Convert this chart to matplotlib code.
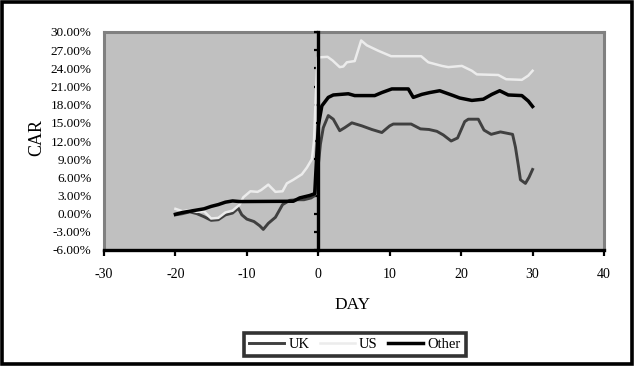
import matplotlib
matplotlib.use("Agg")
import matplotlib.pyplot as plt
from matplotlib.patches import Rectangle
from matplotlib.ticker import FuncFormatter

plt.rcParams['font.family'] = ['Liberation Serif', 'DejaVu Serif']

# ---- data ----
uk_days = [-20, -19, -18, -17, -16, -15, -14, -13, -12, -11.2, -10.7, -10, -9, -8.2, -7.7, -7, -6, -5, -4,
           -3, -2, -1, -0.5, 0, 0.3, 0.7, 1.4, 2.1, 3.0, 3.7, 4.7, 6.1, 7.5, 8.9, 10.0, 10.5, 13.0,
           14.3, 15.5, 16.6, 17.5, 18.6, 19.5, 20.5, 21.0, 22.4, 23.2, 24.2, 25.5, 27.2, 27.6, 28.0,
           28.3, 29.0, 29.5, 30.0]
uk_car = [-0.2, 0.0, 0.3, 0.0, -0.5, -1.1, -1.0, -0.2, 0.1, 0.9, -0.2, -0.9, -1.3, -2.0, -2.6, -1.6, -0.6,
          1.5, 2.2, 2.3, 2.3, 2.6, 3.0, 8.0, 11.5, 14.2, 16.2, 15.6, 13.7, 14.2, 15.0, 14.5, 13.9, 13.4,
          14.5, 14.8, 14.8, 14.0, 13.9, 13.6, 13.0, 12.0, 12.5, 15.2, 15.6, 15.6, 13.8, 13.1, 13.5,
          13.1, 11.0, 8.0, 5.6, 5.0, 6.0, 7.3]

us_days = [-20, -19, -18, -17, -16, -15, -14, -13, -12, -11, -10.5, -9.5, -8.5, -8, -7, -6, -5, -4.4,
           -3.5, -2.3, -1.6, -0.9, -0.6, -0.4, -0.1, 1.3, 2.0, 3.0, 3.5, 4.0, 5.1, 6.0, 6.8, 8.4, 10.2,
           14.4, 15.4, 17.3, 18.2, 20.1, 21.5, 22.2, 25.2, 26.3, 28.5, 29.4, 30.0]
us_car = [0.8, 0.4, 0.6, 0.3, 0.4, -0.8, -0.7, 0.2, 0.5, 1.5, 2.7, 3.7, 3.6, 3.9, 4.8, 3.6, 3.7, 5.0,
          5.6, 6.5, 7.6, 9.0, 12.0, 18.0, 25.8, 25.9, 25.3, 24.2, 24.3, 25.0, 25.2, 28.6, 27.8, 26.9,
          26.0, 26.0, 25.0, 24.4, 24.2, 24.4, 23.6, 23.0, 22.9, 22.2, 22.1, 22.8, 23.6]

other_days = [-20, -19, -18, -17, -16, -15, -14, -13, -12, -11, -3.5, -2.6, -1.2, -0.5, -0.2, 0.0, 0.5,
              1.4, 2.1, 4.2, 5.1, 7.9, 8.9, 10.3, 12.6, 13.3, 14.5, 15.6, 17.0, 18.9, 19.8, 21.5, 23.1,
              24.3, 25.4, 26.6, 28.5, 29.4, 30.0]
other_car = [-0.1, 0.2, 0.4, 0.6, 0.8, 1.2, 1.5, 1.9, 2.1, 2.0, 2.05, 2.6, 3.0, 3.3, 10.0, 14.5, 17.8,
             19.2, 19.6, 19.8, 19.5, 19.5, 20.0, 20.6, 20.6, 19.2, 19.7, 20.0, 20.3, 19.5, 19.1, 18.7,
             18.9, 19.7, 20.3, 19.6, 19.5, 18.6, 17.7]

series_names = ['UK', 'US', 'Other']
x_ticks = [-30, -20, -10, 0, 10, 20, 30, 40]
y_ticks = [-6, -3, 0, 3, 6, 9, 12, 15, 18, 21, 24, 27, 30]

# ---- figure ----
fig = plt.figure(figsize=(6.36, 3.71), dpi=100)
rect = [104 / 636, 1 - 250 / 371, 500 / 636, 218 / 371]

# background axes: gray plot area, gray frame, y labels on the far left
ax_bg = fig.add_axes(rect, zorder=0)
ax_bg.set_facecolor('#c0c0c0')
ax_bg.set_xlim(-30, 40)
ax_bg.set_ylim(-6, 30)
for s in ['top', 'left', 'right']:
    ax_bg.spines[s].set_color('#808080')
    ax_bg.spines[s].set_linewidth(2.2)
ax_bg.spines['bottom'].set_visible(False)
ax_bg.set_xticks([])
ax_bg.set_yticks(y_ticks)
ax_bg.yaxis.set_major_formatter(FuncFormatter(lambda v, p: f"{v:.2f}%"))
ax_bg.tick_params(axis='y', length=0, pad=9, labelsize=9.5)

# main axes: data, bottom axis and the axis at day 0
ax = fig.add_axes(rect, zorder=1)
ax.patch.set_visible(False)
ax.set_xlim(-30, 40)
ax.set_ylim(-6, 30)
ax.plot(uk_days, uk_car, color='#404040', lw=2.1, label=series_names[0])
ax.plot(us_days, us_car, color='#ececec', lw=1.8, label=series_names[1])
ax.plot(other_days, other_car, color='#000000', lw=2.5, label=series_names[2])

for s in ['top', 'right']:
    ax.spines[s].set_visible(False)
ax.spines['bottom'].set_color('black')
ax.spines['bottom'].set_linewidth(2.4)
ax.spines['left'].set_position(('data', 0))
ax.spines['left'].set_color('black')
ax.spines['left'].set_linewidth(2.4)
ax.set_xticks(x_ticks)
ax.set_xticklabels([str(t) for t in x_ticks])
ax.set_yticks(y_ticks)
ax.tick_params(axis='x', direction='out', length=4, width=1.6, pad=9, labelsize=10)
ax.tick_params(axis='y', direction='out', length=3, width=1.6, labelleft=False)

# axis titles
fig.text(37 / 636, 1 - 137 / 371, 'CAR', rotation=90, ha='center', va='center', fontsize=13)
fig.text(353 / 636, 1 - 305 / 371, 'DAY', ha='center', va='center', fontsize=12.5)

# legend
leg = fig.legend(loc='center', bbox_to_anchor=(355 / 636, 1 - 344.5 / 371), ncol=3,
                 fontsize=10.5, frameon=True, fancybox=False, handlelength=2.4,
                 handletextpad=0.3, columnspacing=0.7, borderpad=0.35, borderaxespad=0)
leg.get_frame().set_edgecolor('black')
leg.get_frame().set_linewidth(2.6)

# outer frame
fig.patches.append(Rectangle((2 / 636, 7 / 371), 630 / 636, 362 / 371, transform=fig.transFigure,
                             fill=False, lw=2.6, ec='black'))

fig.savefig('out.png', dpi=100)
